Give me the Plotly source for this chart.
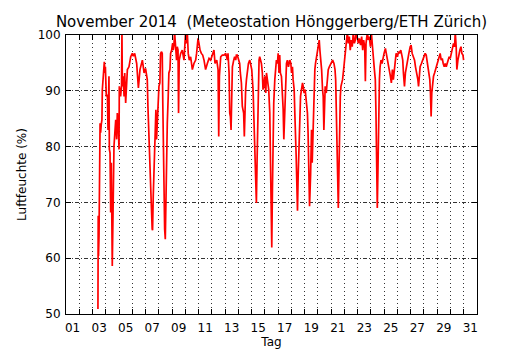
import plotly.graph_objects as go

# Day of month (fractional) and relative humidity (%)
days = [
    2.91, 2.93, 2.95, 2.99, 3.03, 3.07, 3.11, 3.16, 3.21, 3.24, 3.31, 3.39, 3.44, 3.47, 3.54, 3.62,
    3.67, 3.72, 3.74, 3.77, 3.82, 3.87, 3.92, 3.99, 4.04, 4.07, 4.12, 4.20, 4.25, 4.32, 4.37, 4.44,
    4.50, 4.52, 4.62, 4.69, 4.72, 4.75, 4.82, 4.88, 4.93, 5.00, 5.13, 5.25, 5.38, 5.50, 5.58, 5.68,
    5.83, 5.96, 6.08, 6.26, 6.39,
    6.50, 6.63, 6.68, 6.75, 6.83, 6.88, 6.93, 7.00, 7.03, 7.08, 7.13, 7.21, 7.26, 7.28, 7.33, 7.38,
    7.43, 7.51, 7.58, 7.63, 7.71, 7.76, 7.80, 7.84, 7.89, 7.94, 7.99, 8.04, 8.09, 8.14, 8.21, 8.26,
    8.34, 8.39, 8.47, 8.54, 8.59, 8.64, 8.69, 8.77, 8.84, 8.89, 8.95, 8.99, 9.04, 9.15, 9.27, 9.40,
    9.47, 9.52, 9.57, 9.65, 9.72, 9.80, 9.90, 10.03, 10.15, 10.28, 10.35, 10.46, 10.53, 10.61, 10.71,
    10.81, 10.91, 11.03, 11.16, 11.29, 11.41, 11.54, 11.66, 11.74, 11.87, 11.97, 12.02, 12.07, 12.17,
    12.29, 12.42, 12.55,
    12.67, 12.72, 12.80, 12.85, 12.90, 12.95, 13.00, 13.05, 13.15, 13.22, 13.30, 13.35, 13.42, 13.50,
    13.60, 13.65, 13.73, 13.80, 13.90, 13.95, 14.00, 14.05, 14.11, 14.18, 14.26, 14.36, 14.43, 14.51,
    14.61, 14.68, 14.73, 14.81, 14.86, 14.91, 14.96, 15.01, 15.06, 15.11, 15.19, 15.24, 15.31, 15.36,
    15.41, 15.49, 15.57, 15.62, 15.69, 15.74, 15.79, 15.87, 15.92, 15.97, 16.02, 16.07, 16.12, 16.17,
    16.25, 16.32, 16.37, 16.45, 16.50, 16.57, 16.62, 16.67, 16.75, 16.83, 16.88, 16.93, 16.98, 17.03,
    17.08, 17.13, 17.20, 17.28, 17.38, 17.46, 17.51, 17.58, 17.63, 17.71, 17.76, 17.81, 17.86, 17.91,
    17.96, 18.01, 18.06, 18.14, 18.19, 18.26, 18.34, 18.39, 18.46, 18.54, 18.59, 18.64, 18.71, 18.76,
    18.82, 18.87,
    18.95, 19.02, 19.07, 19.15, 19.20, 19.27, 19.32, 19.40, 19.45, 19.53, 19.60, 19.65, 19.70, 19.78,
    19.85, 19.90, 19.95, 20.00, 20.05, 20.13, 20.21, 20.28, 20.36, 20.46, 20.53, 20.61, 20.71, 20.79,
    20.84, 20.89, 20.94, 20.99, 21.04, 21.09, 21.14, 21.19, 21.24, 21.29, 21.36, 21.44, 21.49, 21.57,
    21.64, 21.72, 21.79, 21.87, 21.94, 22.02, 22.09, 22.17, 22.25, 22.32, 22.40, 22.47, 22.55, 22.62,
    22.72, 22.80, 22.88, 22.95, 23.03, 23.08, 23.13, 23.23, 23.30, 23.38, 23.46, 23.53, 23.61, 23.68,
    23.76, 23.83, 23.88, 23.93, 23.98, 24.03, 24.08, 24.14, 24.19, 24.26, 24.34, 24.41, 24.49, 24.59,
    24.66, 24.74, 24.82, 24.89, 24.97, 25.04, 25.12, 25.19, 25.29,
    25.40, 25.50, 25.58, 25.65, 25.75, 25.83, 25.90, 25.95, 26.03, 26.10, 26.21, 26.28, 26.36, 26.46,
    26.53, 26.61, 26.71, 26.79, 26.86, 26.96, 27.04, 27.09, 27.14, 27.21, 27.31, 27.41, 27.52, 27.59,
    27.67, 27.72, 27.79, 27.87, 27.94, 27.99, 28.04, 28.09, 28.15, 28.22, 28.30, 28.37, 28.45, 28.52,
    28.60, 28.67, 28.72, 28.80, 28.88, 28.95, 29.03, 29.10, 29.18, 29.25, 29.33, 29.40, 29.48, 29.56,
    29.63, 29.73, 29.81, 29.86, 29.93, 29.98, 30.06, 30.13, 30.21, 30.29, 30.36, 30.44, 30.49,
]

humidity = [
    50.9, 67.6, 60.4, 64.0, 74.7, 84.2, 82.5, 84.0, 84.8, 90.2, 93.8, 95.2, 93.2, 94.3, 89.0, 89.3,
    83.0, 88.0, 92.6, 79.5, 78.9, 68.2, 77.1, 58.6, 65.2, 74.1, 80.1, 83.0, 84.8, 81.3, 86.0, 84.0,
    79.5, 90.8, 89.0, 91.0, 100.5, 90.8, 92.6, 89.0, 93.2, 87.8, 93.8, 94.3, 96.1, 96.7, 96.2, 96.7,
    94.9, 90.5, 93.8, 95.5, 93.2,
    94.0, 92.0, 87.2, 81.3, 75.9, 74.1, 69.9, 65.2, 65.0, 71.1, 74.7, 78.3, 81.3, 86.6, 81.3, 84.2,
    89.0, 90.8, 91.4, 96.7, 97.0, 96.7, 88.0, 80.1, 74.1, 65.2, 63.4, 72.3, 81.8, 84.2, 89.0, 93.2,
    93.8, 96.7, 97.3, 98.5, 97.3, 98.2, 100.5, 96.7, 95.5, 97.9, 97.3, 86.0, 95.5, 96.7, 97.3, 95.5,
    98.5, 100.5, 98.5, 100.5, 96.7, 95.5, 96.1, 93.8, 94.9, 95.5, 96.7, 99.4, 98.5, 97.3, 96.7,
    96.4, 95.5, 93.8, 94.9, 95.8, 95.5, 96.7, 97.3, 94.9, 95.5, 93.8, 81.8, 92.6, 96.1,
    96.4, 96.4, 96.7,
    95.5, 96.7, 93.2, 86.0, 85.4, 83.0, 90.2, 94.3, 95.5, 96.1, 95.5, 96.4, 96.4, 95.5,
    94.9, 93.2, 91.4, 87.2, 86.0, 81.8, 87.2, 90.2, 92.0, 93.8, 94.9, 95.5, 94.9, 93.8,
    90.2, 85.4, 80.1, 75.3, 69.9, 77.1, 83.0, 91.4, 95.5, 96.1, 95.5, 94.9, 93.2, 90.2,
    90.8, 92.6, 89.6, 93.2, 92.0, 90.8, 90.2, 86.0, 77.1, 67.6, 61.9, 72.3, 83.0, 87.8,
    92.0, 94.3, 95.5, 94.9, 96.7, 93.2, 96.4, 93.2, 92.6, 89.0, 86.6, 81.3, 85.4, 90.2,
    93.2, 94.9, 95.5, 94.3, 95.5, 94.9, 93.2, 94.3, 92.0, 90.2, 86.0, 83.0, 78.3, 73.5,
    68.5, 74.7, 80.1, 86.0, 89.0, 90.2, 91.4, 90.8, 89.6, 90.2, 89.0, 88.4, 86.0, 82.4,
    75.9, 69.3,
    75.0, 83.0, 77.1, 86.0, 90.2, 93.8, 94.9, 96.1, 97.3, 98.5, 99.1, 97.3, 96.1, 93.8,
    90.2, 89.0, 83.0, 89.0, 90.8, 89.6, 92.0, 93.8, 94.3, 94.9, 95.2, 95.5, 94.9, 93.8,
    92.0, 86.0, 80.1, 74.1, 69.0, 75.9, 86.0, 89.0, 90.8, 91.4, 92.0, 93.8, 94.9, 96.7,
    99.1, 100.5, 98.5, 99.7, 97.3, 99.1, 97.9, 100.5, 98.5, 99.1, 100.5, 99.7, 98.5, 99.4,
    98.2, 99.7, 97.3, 99.1, 97.9, 91.7, 98.5, 100.5, 99.1, 99.7, 97.9, 100.5, 97.3, 96.1,
    93.8, 92.0, 86.0, 77.1, 69.0, 75.9, 86.0, 92.0, 94.3, 95.5, 94.9, 96.1, 96.7, 97.6,
    96.7, 96.1, 94.9, 93.8, 92.6, 91.4, 93.8, 92.0, 94.3,
    96.7, 96.1, 97.0, 96.7, 97.3, 96.4, 95.5, 93.2, 90.8, 93.2, 94.9, 96.1, 96.7, 97.9,
    98.2, 96.7, 96.1, 95.5, 94.3, 93.2, 92.0, 90.8, 93.2, 94.3, 94.9, 95.5, 96.1, 96.7,
    96.4, 95.5, 94.9, 93.8, 92.0, 89.6, 85.4, 89.6, 91.4, 92.6, 93.2, 93.8, 94.3, 94.9,
    95.5, 96.1, 96.7, 95.5, 95.8, 94.9, 94.3, 94.9, 94.3, 94.9, 95.5, 96.1, 95.8, 96.7,
    97.3, 98.5, 97.9, 100.5, 97.9, 93.8, 95.5, 96.7, 97.3, 97.9, 96.7, 96.4, 95.5,
]

label_days = list(range(1, 32, 2))
label_text = [f"{d:02d}" for d in label_days]
boundary_days = [d + 0.5 for d in range(1, 31)]
y_ticks = [50, 60, 70, 80, 90, 100]

font = "DejaVu Sans"
W, H = 522, 342  # page adds an 8px body margin
L, R, T, B = 58, 53, 27, 36

fig = go.Figure()
fig.add_trace(go.Scatter(
    x=days, y=humidity, mode="lines",
    line=dict(color="#ff0000", width=1.7),
    showlegend=False, hoverinfo="skip",
))

fig.update_layout(
    width=W, height=H,
    margin=dict(l=L, r=R, t=T, b=B, pad=0),
    paper_bgcolor="white", plot_bgcolor="white",
    font=dict(family=font, size=12, color="black"),
    title=dict(
        text="November 2014 \u00a0(Meteostation Hönggerberg/ETH Zürich)",
        x=(L + (W - R)) / 2 / W, xanchor="center",
        y=1 - 14 / H, yanchor="middle",
        font=dict(family=font, size=15, color="black"),
    ),
)

fig.update_xaxes(
    range=[0.5, 31.5], automargin=False,
    tickmode="array", tickvals=label_days, ticktext=label_text,
    ticks="", showgrid=False, zeroline=False,
    showline=True, linecolor="black", linewidth=1, mirror="allticks",
    tickfont=dict(family=font, size=12, color="black"),
    ticklabelstandoff=3,
    minor=dict(
        tickmode="array", tickvals=boundary_days,
        ticks="inside", ticklen=5, tickcolor="black", tickwidth=1,
        showgrid=True, gridcolor="#333333", gridwidth=1, griddash="1px,3px",
    ),
    title=dict(text="Tag", font=dict(family=font, size=12, color="black"), standoff=2),
)

fig.update_yaxes(
    range=[50, 100], automargin=False,
    tickmode="array", tickvals=y_ticks,
    ticks="inside", ticklen=5, tickcolor="black", tickwidth=1,
    showgrid=True, gridcolor="#333333", gridwidth=1, griddash="4px,2px,1px,2px",
    zeroline=False,
    showline=True, linecolor="black", linewidth=1, mirror="allticks",
    tickfont=dict(family=font, size=12, color="black"),
    ticklabelstandoff=2,
    title=dict(text="Luftfeuchte (%)", font=dict(family=font, size=12, color="black"), standoff=8),
)

fig.write_html("out.html")
